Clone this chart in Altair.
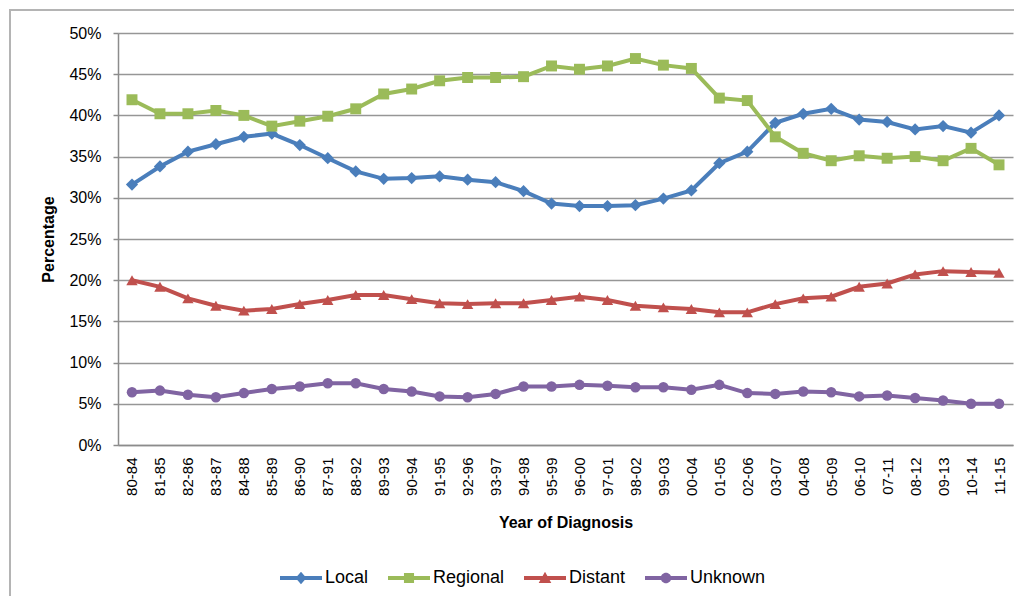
import altair as alt
import pandas as pd

periods = ["80-84", "81-85", "82-86", "83-87", "84-88", "85-89", "86-90", "87-91",
           "88-92", "89-93", "90-94", "91-95", "92-96", "93-97", "94-98", "95-99",
           "96-00", "97-01", "98-02", "99-03", "00-04", "01-05", "02-06", "03-07",
           "04-08", "05-09", "06-10", "07-11", "08-12", "09-13", "10-14", "11-15"]

local = [31.6, 33.8, 35.6, 36.5, 37.4, 37.8, 36.4, 34.8, 33.2, 32.3, 32.4, 32.6,
         32.2, 31.9, 30.8, 29.3, 29.0, 29.0, 29.1, 29.9, 30.9, 34.2, 35.6, 39.1,
         40.2, 40.8, 39.5, 39.2, 38.3, 38.7, 37.9, 40.0]
regional = [41.9, 40.2, 40.2, 40.6, 40.0, 38.7, 39.3, 39.9, 40.8, 42.6, 43.2, 44.2,
            44.6, 44.6, 44.7, 46.0, 45.6, 46.0, 46.9, 46.1, 45.7, 42.1, 41.8, 37.4,
            35.4, 34.5, 35.1, 34.8, 35.0, 34.5, 36.0, 34.0]
distant = [20.0, 19.2, 17.8, 16.9, 16.3, 16.5, 17.1, 17.6, 18.2, 18.2, 17.7, 17.2,
           17.1, 17.2, 17.2, 17.6, 18.0, 17.6, 16.9, 16.7, 16.5, 16.1, 16.1, 17.1,
           17.8, 18.0, 19.2, 19.6, 20.7, 21.1, 21.0, 20.9]
unknown = [6.4, 6.6, 6.1, 5.8, 6.3, 6.8, 7.1, 7.5, 7.5, 6.8, 6.5, 5.9, 5.8, 6.2,
           7.1, 7.1, 7.3, 7.2, 7.0, 7.0, 6.7, 7.3, 6.3, 6.2, 6.5, 6.4, 5.9, 6.0,
           5.7, 5.4, 5.0, 5.0]

series_names = ["Local", "Regional", "Distant", "Unknown"]
series_colors = ["#4A7EBB", "#9BBB59", "#C0504D", "#8064A2"]
series_shapes = ["diamond", "square", "triangle-up", "circle"]
series_sizes = [150, 120, 130, 110]
series_values = [local, regional, distant, unknown]

rows = []
for name, vals in zip(series_names, series_values):
    for p, v in zip(periods, vals):
        rows.append({"Period": p, "Series": name, "Value": v})
df = pd.DataFrame(rows)

FONT = "Liberation Sans"
W, H = 895, 412

# legend symbol paths: a line segment plus the series marker
line_part = "M-1,-0.1 L1,-0.1 L1,0.1 L-1,0.1 Z "
legend_paths = [
    line_part + "M0,-0.3 L0.26,0 L0,0.3 L-0.26,0 Z",
    line_part + "M-0.24,-0.24 L0.24,-0.24 L0.24,0.24 L-0.24,0.24 Z",
    line_part + "M0,-0.3 L0.3,0.24 L-0.3,0.24 Z",
    line_part + "M0.25,0 A0.25,0.25 0 1,1 -0.25,0 A0.25,0.25 0 1,1 0.25,0 Z",
]

x_enc = alt.X("Period:N", sort=periods,
              scale=alt.Scale(type="point", padding=0.5),
              axis=alt.Axis(title="Year of Diagnosis", labelAngle=-90,
                            labelFontSize=15, labelFont=FONT, labelColor="#000",
                            labelPadding=12, ticks=False, tickSize=0,
                            domainColor="#8c8c8c", domainWidth=1.5, grid=False,
                            titleFont=FONT, titleFontSize=16, titleFontWeight="bold",
                            titleColor="#000", titleX=W / 2, titleY=77,
                            titleBaseline="middle", titleAlign="center"))
y_enc = alt.Y("Value:Q",
              scale=alt.Scale(domain=[0, 50], nice=False),
              axis=alt.Axis(title="Percentage", values=list(range(0, 55, 5)),
                            labelExpr="datum.value + '%'",
                            labelFontSize=16, labelFont=FONT, labelColor="#000",
                            labelPadding=12, tickSize=5, tickColor="#8c8c8c",
                            tickWidth=1.5, domainColor="#8c8c8c", domainWidth=1.5,
                            grid=True, gridColor="#969696", gridWidth=1.5,
                            titleFont=FONT, titleFontSize=16, titleFontWeight="bold",
                            titleColor="#000", titleAngle=-90, titleX=-70,
                            titleY=H / 2, titleAlign="center",
                            titleBaseline="middle"))

base = alt.Chart(df)

frame = alt.Chart(pd.DataFrame({"a": [0]})).mark_rect(
    fill="transparent", stroke="#b4b4b4", strokeWidth=2
).encode(x=alt.value(-108), x2=alt.value(1200),
         y=alt.value(-23), y2=alt.value(800))

layers = [frame]
for name, col in zip(series_names, series_colors):
    layers.append(
        base.transform_filter(alt.datum.Series == name)
        .mark_line(strokeWidth=4, color=col)
        .encode(x=x_enc, y=y_enc)
    )
for name, col, shp, size in zip(series_names, series_colors, series_shapes, series_sizes):
    layers.append(
        base.transform_filter(alt.datum.Series == name)
        .mark_point(shape=shp, filled=True, opacity=1, size=size, color=col)
        .encode(x=x_enc, y=y_enc)
    )

leg = alt.Legend(title=None, orient="none", direction="horizontal",
                 legendX=162, legendY=524, padding=0,
                 symbolSize=1764, symbolStrokeWidth=0,
                 labelFont=FONT, labelFontSize=18,
                 labelColor="#000", labelOffset=3,
                 columnPadding=19, symbolOpacity=1)

legend_layer = base.mark_point(filled=True, opacity=0, size=0).encode(
    x=x_enc, y=y_enc,
    color=alt.Color("Series:N", scale=alt.Scale(domain=series_names, range=series_colors),
                    legend=leg),
    shape=alt.Shape("Series:N", scale=alt.Scale(domain=series_names, range=legend_paths),
                    legend=leg),
)
layers.append(legend_layer)

chart = alt.layer(*layers).properties(
    width=W, height=H,
    autosize=alt.AutoSizeParams(type="none"),
    padding={"left": 110, "top": 25, "right": 1, "bottom": 151},
    background="white",
).configure_view(stroke="transparent")

chart.save("out.html", embed_options={"renderer": "svg", "actions": False})
